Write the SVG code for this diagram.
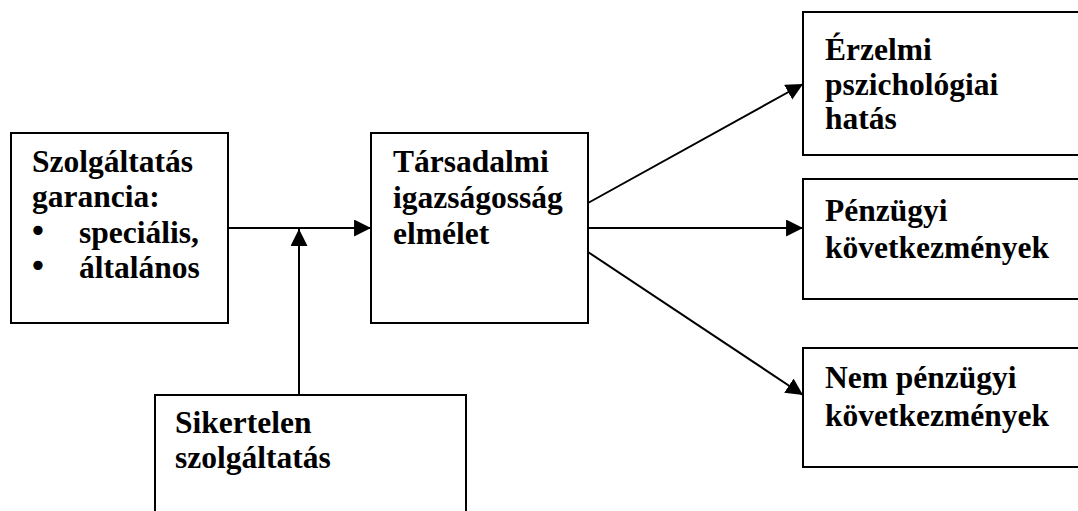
<svg xmlns="http://www.w3.org/2000/svg" width="1078" height="511" viewBox="0 0 1078 511">
  <style>
    .box { fill: #ffffff; stroke: #000000; stroke-width: 2; }
    .lbl { font-family: "Liberation Serif", "Times New Roman", serif; font-weight: bold; font-size: 31.5px; fill: #000000; }
    .bullet { font-family: "DejaVu Sans", sans-serif; font-size: 32px; fill: #000000; text-anchor: middle; }
    .link { fill: none; stroke: #000000; stroke-width: 2; marker-end: url(#arrow); }
  </style>
  <defs>
    <marker id="arrow" markerUnits="userSpaceOnUse" markerWidth="18" markerHeight="18" viewBox="0 0 17 17" refX="16" refY="8" orient="auto">
      <path d="M0,0 L16,8 L0,16 Z" fill="#000000"/>
    </marker>
  </defs>
  <rect width="1078" height="511" fill="#ffffff"/>

  <g id="connectors">
    <line class="link" x1="228" y1="228" x2="371" y2="228"/>
    <line class="link" x1="299" y1="395" x2="299" y2="229"/>
    <line class="link" x1="588" y1="203" x2="803" y2="84"/>
    <line class="link" x1="588" y1="228" x2="803" y2="228"/>
    <line class="link" x1="588" y1="252" x2="803" y2="395"/>
  </g>

  <g id="node-garancia">
    <rect class="box" x="11" y="133" width="217" height="190"/>
    <text class="lbl" x="32" y="172">Szolgáltatás</text>
    <text class="lbl" x="32" y="207">garancia:</text>
    <text class="bullet" x="38" y="242">•</text>
    <text class="lbl" x="79" y="243">speciális,</text>
    <text class="bullet" x="38" y="277">•</text>
    <text class="lbl" x="79" y="278">általános</text>
  </g>

  <g id="node-elmelet">
    <rect class="box" x="371" y="133" width="217" height="190"/>
    <text class="lbl" x="393" y="172">Társadalmi</text>
    <text class="lbl" x="393" y="208">igazságosság</text>
    <text class="lbl" x="393" y="244">elmélet</text>
  </g>

  <g id="node-sikertelen">
    <rect class="box" x="155" y="395" width="311" height="130"/>
    <text class="lbl" x="175" y="433">Sikertelen</text>
    <text class="lbl" x="175" y="468">szolgáltatás</text>
  </g>

  <g id="node-erzelmi">
    <rect class="box" x="803" y="12" width="300" height="143"/>
    <text class="lbl" x="825" y="60">Érzelmi</text>
    <text class="lbl" x="825" y="95">pszichológiai</text>
    <text class="lbl" x="825" y="129">hatás</text>
  </g>

  <g id="node-penzugyi">
    <rect class="box" x="803" y="179" width="300" height="120"/>
    <text class="lbl" x="825" y="221">Pénzügyi</text>
    <text class="lbl" x="825" y="258">következmények</text>
  </g>

  <g id="node-nem-penzugyi">
    <rect class="box" x="803" y="348" width="300" height="119"/>
    <text class="lbl" x="825" y="388">Nem pénzügyi</text>
    <text class="lbl" x="825" y="426">következmények</text>
  </g>
</svg>
